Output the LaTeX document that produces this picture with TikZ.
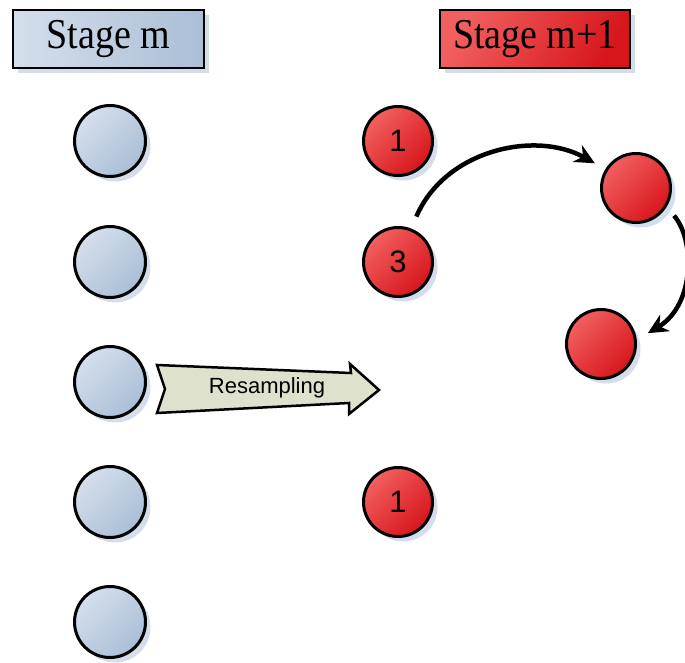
\documentclass[tikz,border=0pt]{standalone}
\usepackage{fontspec}
\setmainfont{Liberation Serif}
\setsansfont{Liberation Sans}
\usetikzlibrary{shadows,arrows.meta}
\definecolor{bluefill}{RGB}{170,190,214}
\definecolor{bluelight}{RGB}{212,223,236}
\definecolor{redfill}{RGB}{215,22,28}
\definecolor{redlight}{RGB}{242,95,95}
\definecolor{shadowc}{RGB}{200,212,230}
\definecolor{arrowfill}{RGB}{222,226,204}
\begin{document}
\begin{tikzpicture}[x=1pt,y=-1pt,
  shad/.style={drop shadow={shadow xshift=5pt,shadow yshift=-5pt,fill=shadowc,opacity=0.8}},
  bluecirc/.style={circle,draw=black,line width=3pt,minimum size=71pt,inner sep=0pt,
    shad,top color=bluelight,bottom color=bluefill,shading angle=45},
  redcirc/.style={circle,draw=black,line width=3pt,minimum size=69pt,inner sep=0pt,
    shad,top color=redlight,bottom color=redfill,shading angle=45,
    font=\sffamily\fontsize{31}{33}\selectfont},
  stagebox/.style={rectangle,draw=black,line width=2.5pt,minimum height=58pt,inner sep=0pt,
    shad,font=\fontsize{38}{42}\selectfont},
  arc/.style={line width=4.5pt,-{Stealth[length=20pt,width=19pt]}}]
\useasboundingbox (0,0) rectangle (685,663);
% stage headers
\node[stagebox,minimum width=191pt,left color=bluelight,right color=bluefill] (sm) at (108.5,39) {\scalebox{1}[1.12]{Stage m}};
\node[stagebox,minimum width=190pt,left color=redlight,right color=redfill,shading angle=60] (sm1) at (535,39) {\scalebox{1}[1.12]{Stage m+1}};
% blue particles
\node[bluecirc] (b1) at (110,141) {};
\node[bluecirc] (b2) at (110,262) {};
\node[bluecirc] (b3) at (110,382) {};
\node[bluecirc] (b4) at (110,502) {};
\node[bluecirc] (b5) at (110,622) {};
% red particles
\node[redcirc] (r1) at (398,141) {1};
\node[redcirc] (r3) at (398,262) {3};
\node[redcirc] (r4) at (398,502) {1};
\node[redcirc] (ra) at (636,188) {};
\node[redcirc] (rb) at (601,344) {};
% resampling arrow
\coordinate (p1) at (157,365);
\coordinate (p2) at (351,373);
\coordinate (p3) at (350,364);
\coordinate (p4) at (379,390);
\coordinate (p5) at (349,414);
\coordinate (p6) at (349,403);
\coordinate (p7) at (157,413);
\coordinate (p8) at (165,389);
\draw[line width=2.5pt,fill=arrowfill,line join=miter] (p1) -- (p2) -- (p3) -- (p4) -- (p5) -- (p6) -- (p7) -- (p8) -- cycle;
\node[font=\sffamily\fontsize{22}{24}\selectfont] (rs) at (267,388) {Resampling};
% movement arcs
\draw[arc] ([shift={(68:49pt)}]r3.center) .. controls (445,150) and (535,130) .. ([shift={(149:48pt)}]ra.center);
\draw[arc] ([shift={(-36:47pt)}]ra.center) .. controls (695,240) and (695,305) .. ([shift={(13:48pt)}]rb.center);
\end{tikzpicture}
\end{document}
